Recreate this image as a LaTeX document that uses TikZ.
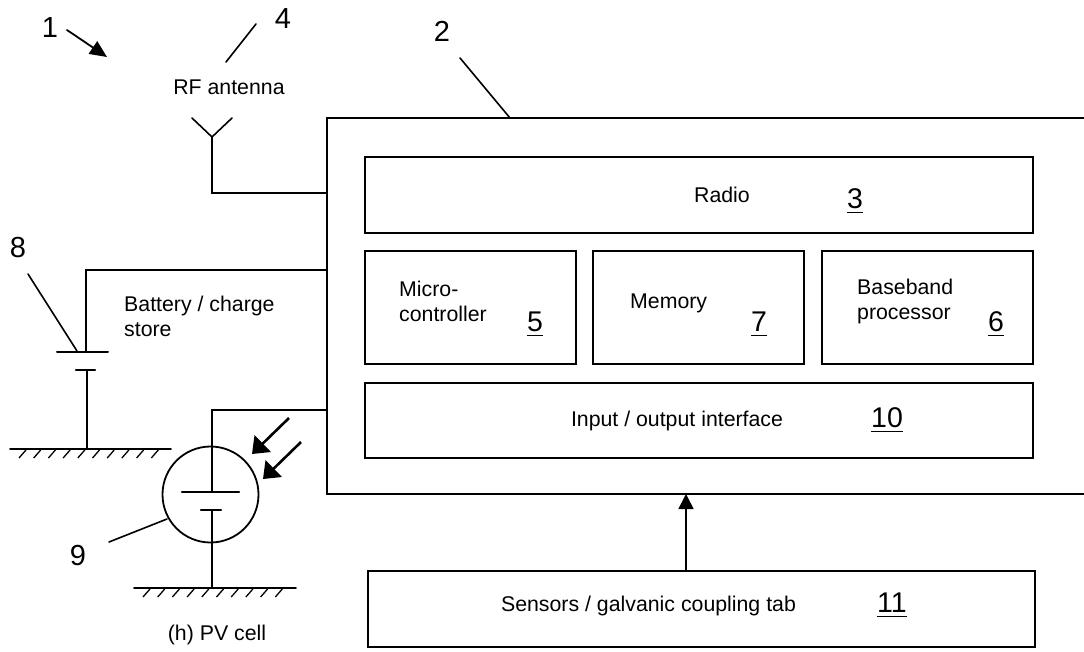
\documentclass[tikz,border=0pt]{standalone}
\usepackage{fontspec}
\setmainfont{Liberation Sans}
\usetikzlibrary{arrows.meta}
\tikzset{
  x=1pt,y=-1pt,
  wire/.style={line width=1.6pt,line cap=round,line join=miter},
  blockbox/.style={draw,line width=1.8pt,anchor=north west,inner sep=0pt},
  lbl/.style={font=\fontsize{21.3}{25}\selectfont,inner sep=0pt,align=left},
  refnum/.style={font=\fontsize{29}{32}\selectfont,inner sep=0pt},
  ulnum/.style={font=\fontsize{28.5}{32}\selectfont,inner sep=0pt,anchor=base},
  hatch/.style={line width=1.3pt},
  fatarrow/.style={line width=2.6pt,-{Triangle[length=15pt,width=23pt]}}
}
\newcommand{\ulmark}[1]{\underline{\vrule width 0pt height 0pt depth 2.6pt #1}}
\newcommand{\groundline}[3]{%
  \draw[wire] (#1,#3) -- (#2,#3);
  \foreach \k in {0,...,9}{
    \draw[hatch] ({#1+9+\k*14.7+7},#3+1) -- ({#1+9+\k*14.7},#3+9);
  }
}
\begin{document}
\begin{tikzpicture}
\useasboundingbox (0,0) rectangle (1084,651);
\fill[white] (0,0) rectangle (1084,651);
% boxes
\draw[wire,line width=2pt] (1090,118) -- (327,118) -- (327,494) -- (1090,494);
\coordinate (outerL1) at (327,193);
\coordinate (outerL2) at (327,270);
\coordinate (outerL3) at (327,410);
\coordinate (outerB) at (686,494);
\node[blockbox,minimum width=668pt,minimum height=76pt] (radio) at (364,156) {};
\node[blockbox,minimum width=211pt,minimum height=113pt] (micro) at (364,250) {};
\node[blockbox,minimum width=211pt,minimum height=113pt] (mem) at (592,250) {};
\node[blockbox,minimum width=211pt,minimum height=113pt] (base) at (821,250) {};
\node[blockbox,minimum width=668pt,minimum height=75pt] (io) at (364,382) {};
\node[blockbox,minimum width=667pt,minimum height=76pt] (sens) at (367,570) {};
% labels
\node[lbl] (tradio) at (722,195) {Radio};
\node[ulnum] (n3) at (855,208) {\ulmark{3}};
\node[lbl,anchor=west] (tmicro) at (399,301) {Micro-\\controller};
\node[ulnum] (n5) at (535,331) {\ulmark{5}};
\node[lbl,anchor=west] (tmem) at (630,303) {Memory};
\node[ulnum] (n7) at (759,331) {\ulmark{7}};
\node[lbl,anchor=west] (tbase) at (857,301) {Baseband\\processor};
\node[ulnum] (n6) at (996,331) {\ulmark{6}};
\node[lbl] (tio) at (677,421) {Input / output interface};
\node[ulnum] (n10) at (887,427) {\ulmark{10}};
\node[lbl] (tsens) at (648.5,606) {Sensors / galvanic coupling tab};
\node[ulnum] (n11) at (892,612) {\ulmark{11}};
\node[lbl,anchor=west] (tbat) at (124,316) {Battery / charge\\store};
\node[lbl] (tant) at (229,87) {RF antenna};
\node[lbl] (tpv) at (217,635) {(h) PV cell};
\node[refnum] (n1) at (50,28) {1};
\node[refnum] (n4) at (283,19) {4};
\node[refnum] (n2) at (442,31) {2};
\node[refnum] (n8) at (18,248) {8};
\node[refnum] (n9) at (78,556) {9};
% antenna
\coordinate (antT) at (212,137);
\draw[wire] (192,118) -- (antT) -- (232,118);
\draw[wire] (antT) |- (outerL1);
% leader lines
\draw[wire] (226,62) -- (256,24);
\draw[wire] (460,58) -- (510,118);
\draw[wire] (28,274) -- (77,351);
\draw[wire] (109,542) -- (167,519);
\draw[wire,line width=1.8pt,-{Triangle[length=17pt,width=15pt]}] (67,30) -- (107,57);
% battery
\draw[wire] (86,352) |- (outerL2);
\draw[wire,line width=2pt] (57,352) -- (108,352);
\draw[wire,line width=2.4pt] (76,370) -- (95,370);
\draw[wire] (87,370) -- (87,449);
\groundline{10}{171}{449}
% PV
\draw[wire] (212,492) |- (outerL3);
\node[draw,circle,line width=1.8pt,minimum size=96pt,inner sep=0pt] (pv) at (210.5,494.5) {};
\draw[wire,line width=2.4pt] (182,492) -- (239,492);
\draw[wire,line width=2.4pt] (201,510) -- (221,510);
\draw[wire] (212,510) -- (212,588);
\groundline{134}{296}{588}
\draw[fatarrow] (289,418) -- (252,454);
\draw[fatarrow] (301,442) -- (263,479);
% up arrow
\draw[wire,-{Triangle[length=15pt,width=15pt]}] (sens.north -| outerB) -- (outerB);
\end{tikzpicture}
\end{document}
